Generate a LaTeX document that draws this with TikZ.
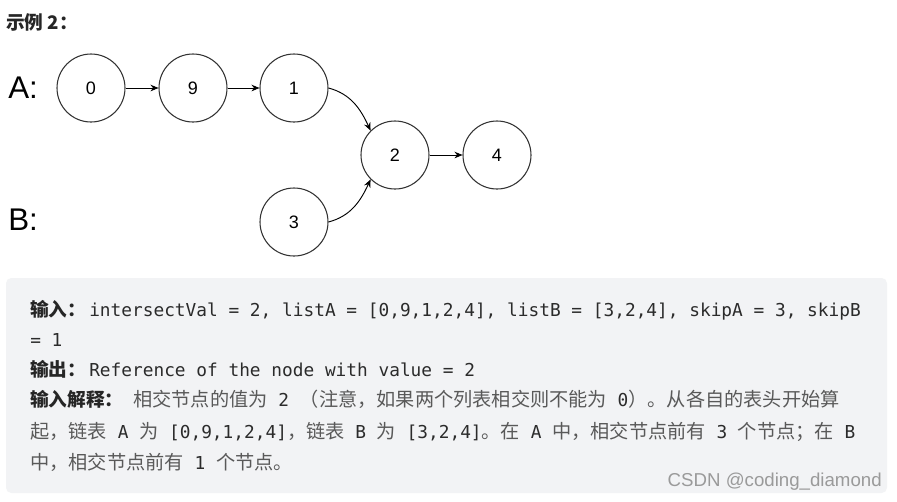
\documentclass[tikz,border=0pt]{standalone}
\usepackage{fontspec}
\setmainfont{Liberation Sans}
\setmonofont{DejaVu Sans Mono}
\newfontfamily\cjk{Noto Sans CJK SC}
\usetikzlibrary{arrows.meta}
\definecolor{boxbg}{HTML}{F2F3F5}
\definecolor{labc}{HTML}{262626}
\definecolor{codec}{HTML}{2B2B2B}
\definecolor{bodyc}{HTML}{595959}
\definecolor{linec}{HTML}{333333}
\definecolor{wmc}{HTML}{9A9A9A}
\newcommand\mc[1]{{\cjk\fontsize{14.4pt}{16pt}\selectfont #1}}
\newcommand\mlab[2]{\makebox[#1][l]{\cjk\bfseries\fontsize{14pt}{16pt}\selectfont\color{labc}#2}}
\newcommand\mtt[1]{{\ttfamily\fontsize{13.35pt}{16pt}\selectfont\color{codec}#1}}
\tikzset{
  listnode/.style={circle, draw=linec, line width=0.8pt, minimum size=51pt, inner sep=0pt,
    font=\fontsize{13.5pt}{16pt}\selectfont, text=black},
  biglab/.style={anchor=west, font=\fontsize{23.5pt}{26pt}\selectfont, text=black, inner sep=0pt},
  arr/.style={-{Stealth[length=6pt,width=5pt]}, line width=0.7pt, draw=black},
  textline/.style={anchor=base west, inner sep=0pt, font=\fontsize{14pt}{16pt}\selectfont, text=bodyc},
}
\begin{document}
\begin{tikzpicture}[x=0.75pt,y=-0.75pt]
\useasboundingbox (0,0) rectangle (897,501);
\fill[white] (0,0) rectangle (897,501);
\node[anchor=west, inner sep=0pt, font=\fontsize{14pt}{16pt}\selectfont, text=labc] (title) at (6,22) {\cjk\bfseries 示例 2：};

\node[biglab] (la) at (8,88) {A:};
\node[biglab] (lb) at (8,220) {B:};

\node[listnode] (n0) at (91,88) {0};
\node[listnode] (n9) at (193,88) {9};
\node[listnode] (n1) at (294,88) {1};
\node[listnode] (n2) at (395,155) {2};
\node[listnode] (n4) at (497,155) {4};
\node[listnode] (n3) at (294,222) {3};

\draw[arr] (n0) -- (n9);
\draw[arr] (n9) -- (n1);
\draw[arr] (n2) -- (n4);
\draw[arr] (n1.east) to[out=-15,in=115] (n2.north west);
\draw[arr] (n3.east) to[out=15,in=-115] (n2.south west);

\fill[boxbg, rounded corners=4pt] (6,278) rectangle (887,493);

\node[textline] (l1) at (30,316) {\mlab{44.25pt}{输入：}\mtt{intersectVal = 2, listA = [0,9,1,2,4], listB = [3,2,4], skipA = 3, skipB}};
\node[textline] (l2) at (30,346) {\mtt{= 1}};
\node[textline] (l3) at (30,376) {\mlab{44.25pt}{输出：}\mtt{Reference of the node with value = 2}};
\node[textline] (l4) at (30,406) {\mlab{77.25pt}{输入解释：}\mc{相交节点的值为}\mtt{~2~}\mc{（注意，如果两个列表相交则不能为}\mtt{~0}\mc{）。从各自的表头开始算}};
\node[textline] (l5) at (30,438) {\mc{起，链表}\mtt{~A~}\mc{为}\mtt{~[0,9,1,2,4]}\mc{，链表}\mtt{~B~}\mc{为}\mtt{~[3,2,4]}\mc{。在}\mtt{~A~}\mc{中，相交节点前有}\mtt{~3~}\mc{个节点；在}\mtt{~B}};
\node[textline] (l6) at (30,469) {\mc{中，相交节点前有}\mtt{~1~}\mc{个节点。}};

\node[anchor=east, inner sep=0pt, font=\fontsize{14pt}{16pt}\selectfont, text=wmc] (wm) at (882,482) {CSDN @coding\_diamond};
\end{tikzpicture}
\end{document}
